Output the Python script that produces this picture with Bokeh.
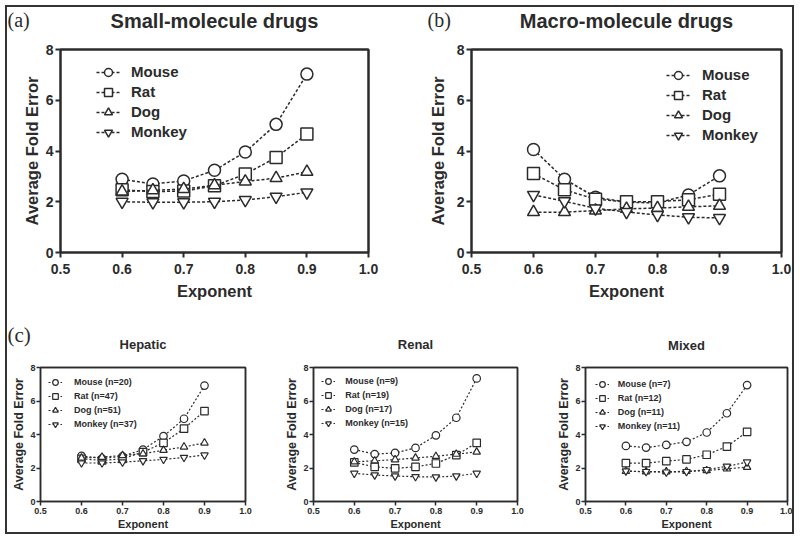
from bokeh.plotting import figure
from bokeh.layouts import column, row
from bokeh.models import (Legend, LegendItem, Label, FixedTicker, NumeralTickFormatter, Range1d,
                          LinearAxis)
from bokeh.embed import file_html
from bokeh.resources import INLINE

# ---------------- data ----------------
exponent = [0.6, 0.65, 0.7, 0.75, 0.8, 0.85, 0.9]
species = ["Mouse", "Rat", "Dog", "Monkey"]
x_ticks = [0.5, 0.6, 0.7, 0.8, 0.9, 1.0]
y_ticks = [0, 2, 4, 6, 8]

panel_titles = ["Small-molecule drugs", "Macro-molecule drugs", "Hepatic", "Renal", "Mixed"]
panel_tags = ["(a)", "(b)", "(c)"]

small_mouse = [2.89, 2.70, 2.82, 3.24, 3.96, 5.05, 7.03]
small_rat = [2.47, 2.40, 2.42, 2.63, 3.09, 3.74, 4.67]
small_dog = [2.40, 2.45, 2.50, 2.65, 2.80, 2.93, 3.18]
small_monkey = [2.00, 1.98, 1.98, 2.00, 2.07, 2.20, 2.37]

macro_mouse = [4.06, 2.89, 2.18, 1.98, 1.95, 2.27, 3.02]
macro_rat = [3.11, 2.47, 2.10, 2.00, 2.00, 2.08, 2.30]
macro_dog = [1.59, 1.59, 1.65, 1.72, 1.75, 1.80, 1.84]
macro_monkey = [2.27, 2.02, 1.74, 1.60, 1.48, 1.39, 1.36]

hepatic_mouse = [2.72, 2.57, 2.70, 3.10, 3.90, 4.94, 6.92]
hepatic_rat = [2.55, 2.45, 2.55, 2.95, 3.50, 4.35, 5.40]
hepatic_dog = [2.60, 2.65, 2.75, 2.85, 3.06, 3.26, 3.50]
hepatic_monkey = [2.30, 2.30, 2.35, 2.43, 2.51, 2.63, 2.77]

renal_mouse = [3.10, 2.83, 2.90, 3.20, 3.95, 5.00, 7.35]
renal_rat = [2.33, 2.07, 1.98, 2.07, 2.27, 2.77, 3.50]
renal_dog = [2.37, 2.43, 2.50, 2.60, 2.70, 2.83, 2.96]
renal_monkey = [1.68, 1.58, 1.52, 1.48, 1.46, 1.52, 1.68]

mixed_mouse = [3.32, 3.22, 3.38, 3.56, 4.12, 5.27, 6.95]
mixed_rat = [2.29, 2.29, 2.41, 2.51, 2.79, 3.28, 4.16]
mixed_dog = [1.80, 1.78, 1.78, 1.80, 1.85, 1.95, 2.05]
mixed_monkey = [1.82, 1.78, 1.75, 1.78, 1.90, 2.10, 2.35]

small_labels = ["Mouse", "Rat", "Dog", "Monkey"]
macro_labels = ["Mouse", "Rat", "Dog", "Monkey"]
hepatic_labels = ["Mouse (n=20)", "Rat (n=47)", "Dog (n=51)", "Monkey (n=37)"]
renal_labels = ["Mouse (n=9)", "Rat (n=19)", "Dog (n=17)", "Monkey (n=15)"]
mixed_labels = ["Mouse (n=7)", "Rat (n=12)", "Dog (n=11)", "Monkey (n=11)"]

# ---------------- styling ----------------
INK = "#2b2b2b"
FONT = "Liberation Sans"
SERIF = "Liberation Serif"
MARKERS = ["circle", "square", "triangle", "inverted_triangle"]

BIG = dict(height=265, mb_top=12, mb_bottom=48, tick_font="14px", xlab_font="16.5px", ylab_font="16.5px",
           tick_out=5, x_std=6, y_std=2, x_lab_std=5, axis_w=2,
           msize=12, mlw=1.5, dash="3 2", lw=1.5,
           leg_font="15px", leg_gw=24, leg_gh=20)
SMALL = dict(height=174, mb_top=9, mb_bottom=31, tick_font="9px", xlab_font="11px", ylab_font="12.5px",
             tick_out=4, x_std=2, y_std=1, x_lab_std=1, axis_w=1.5,
             msize=7.5, mlw=1.2, dash="2 2", lw=1.2,
             leg_font="9px", leg_gw=14, leg_gh=14)


def style_axis(ax, sty):
    ax.axis_line_color = INK
    ax.axis_line_width = sty["axis_w"]
    ax.major_tick_line_color = INK
    ax.major_tick_line_width = sty["axis_w"]
    ax.major_tick_in = 0
    ax.major_tick_out = sty["tick_out"]
    ax.minor_tick_line_color = None
    ax.major_label_text_font = FONT
    ax.major_label_text_font_style = "bold"
    ax.major_label_text_font_size = sty["tick_font"]
    ax.major_label_text_color = INK
    ax.axis_label_text_font = FONT
    ax.axis_label_text_font_style = "bold"
    ax.axis_label_text_color = INK


def edge_axis(ticks, sty):
    # bare axis line closing the box on top / right: invisible 1px ticks, blank labels
    return LinearAxis(ticker=FixedTicker(ticks=ticks),
                      major_label_overrides={t: "" for t in ticks},
                      axis_line_color=INK, axis_line_width=sty["axis_w"],
                      major_tick_line_alpha=0, major_tick_in=0, major_tick_out=1,
                      minor_tick_line_color=None, minor_tick_in=0, minor_tick_out=0,
                      major_label_standoff=0, major_label_text_font_size="1px")


def make_panel(series, labels, sty, width, mb_left, mb_right, leg_x, leg_top, leg_std, y_lab_std):
    p = figure(width=width, height=sty["height"],
               x_range=Range1d(x_ticks[0], x_ticks[-1]), y_range=Range1d(y_ticks[0], y_ticks[-1]),
               output_backend="svg", toolbar_location=None,
               min_border_left=mb_left, min_border_right=mb_right,
               min_border_top=sty["mb_top"], min_border_bottom=sty["mb_bottom"],
               background_fill_color="white", border_fill_color="white")
    frame_h = sty["height"] - sty["mb_top"] - sty["mb_bottom"]
    p.xgrid.visible = False
    p.ygrid.visible = False
    p.outline_line_color = INK
    p.outline_line_width = sty["axis_w"]

    p.xaxis.ticker = FixedTicker(ticks=x_ticks)
    p.xaxis.formatter = NumeralTickFormatter(format="0.0")
    p.yaxis.ticker = FixedTicker(ticks=y_ticks)
    p.yaxis.formatter = NumeralTickFormatter(format="0")
    p.xaxis.axis_label = "Exponent"
    p.yaxis.axis_label = "Average Fold Error"
    style_axis(p.xaxis[0], sty)
    style_axis(p.yaxis[0], sty)
    p.xaxis.major_label_standoff = sty["x_std"]
    p.yaxis.major_label_standoff = sty["y_std"]
    p.xaxis.axis_label_standoff = sty["x_lab_std"]
    p.yaxis.axis_label_standoff = y_lab_std
    p.xaxis.axis_label_text_font_size = sty["xlab_font"]
    p.yaxis.axis_label_text_font_size = sty["ylab_font"]

    # top and right edges of the plotting box
    p.add_layout(edge_axis(x_ticks, sty), "above")
    p.add_layout(edge_axis(y_ticks, sty), "right")

    items = []
    for vals, lab, mk in zip(series, labels, MARKERS):
        lr = p.line(exponent, vals, line_color=INK, line_width=sty["lw"], line_dash=sty["dash"])
        sr = p.scatter(exponent, vals, marker=mk, size=sty["msize"], line_color=INK,
                       line_width=sty["mlw"], fill_color="white")
        items.append(LegendItem(label=lab, renderers=[lr, sr]))

    gh = sty["leg_gh"]
    leg_h = 4 * gh
    legend = Legend(items=items, location=(leg_x, frame_h - leg_top - leg_h),
                    glyph_width=sty["leg_gw"], glyph_height=gh, label_height=gh, spacing=0,
                    label_standoff=leg_std, padding=0, margin=0,
                    border_line_color=None, background_fill_alpha=0,
                    label_text_font=FONT, label_text_font_style="bold",
                    label_text_font_size=sty["leg_font"], label_text_color=INK)
    p.add_layout(legend)
    return p


def make_header(width, height, texts):
    # a strip that only carries the panel titles and (a)/(b)/(c) tags; 1 data unit = 1 px, y down
    h = figure(width=width, height=height, x_range=Range1d(0, width), y_range=Range1d(height, 0),
               output_backend="svg", toolbar_location=None, x_axis_location=None, y_axis_location=None,
               min_border=0, outline_line_color=None, background_fill_color="white",
               border_fill_color="white")
    h.xgrid.visible = False
    h.ygrid.visible = False
    for txt, x, y, align, font, size, style in texts:
        h.add_layout(Label(x=x, y=y, text=txt, text_align=align, text_baseline="alphabetic",
                           text_font=font, text_font_size=size, text_font_style=style, text_color=INK))
    return h


head_top = make_header(785, 30, [
    (panel_tags[0], 0, 12, "left", SERIF, "20px", "normal"),
    (panel_tags[1], 420, 12, "left", SERIF, "20px", "normal"),
    (panel_titles[0], 207, 13, "center", FONT, "20px", "bold"),
    (panel_titles[1], 619, 13, "center", FONT, "20px", "bold"),
])
head_bottom = make_header(785, 56, [
    (panel_tags[2], 0, 32, "left", SERIF, "21px", "normal"),
    (panel_titles[2], 135.5, 41.5, "center", FONT, "13px", "bold"),
    (panel_titles[3], 408, 41.5, "center", FONT, "13px", "bold"),
    (panel_titles[4], 679, 42.5, "center", FONT, "13px", "bold"),
])

pa = make_panel([small_mouse, small_rat, small_dog, small_monkey], small_labels,
                BIG, 413, 53, 52, leg_x=36, leg_top=14.5, leg_std=11, y_lab_std=2)
pb = make_panel([macro_mouse, macro_rat, macro_dog, macro_monkey], macro_labels,
                BIG, 372, 51, 11, leg_x=195, leg_top=17.5, leg_std=12, y_lab_std=7)
ph = make_panel([hepatic_mouse, hepatic_rat, hepatic_dog, hepatic_monkey], hepatic_labels,
                SMALL, 268, 33, 30, leg_x=8, leg_top=7.5, leg_std=12, y_lab_std=1)
pr = make_panel([renal_mouse, renal_rat, renal_dog, renal_monkey], renal_labels,
                SMALL, 273, 38, 31, leg_x=8.3, leg_top=7, leg_std=10, y_lab_std=1)
pm = make_panel([mixed_mouse, mixed_rat, mixed_dog, mixed_monkey], mixed_labels,
                SMALL, 244, 37, 5, leg_x=9.7, leg_top=10, leg_std=9, y_lab_std=1)

layout = column(head_top, row(pa, pb), head_bottom, row(ph, pr, pm),
                styles={"border": "2px solid #333", "margin": "5px 0 0 5px", "background": "white"})

open("out.html", "w").write(file_html(layout, INLINE))
